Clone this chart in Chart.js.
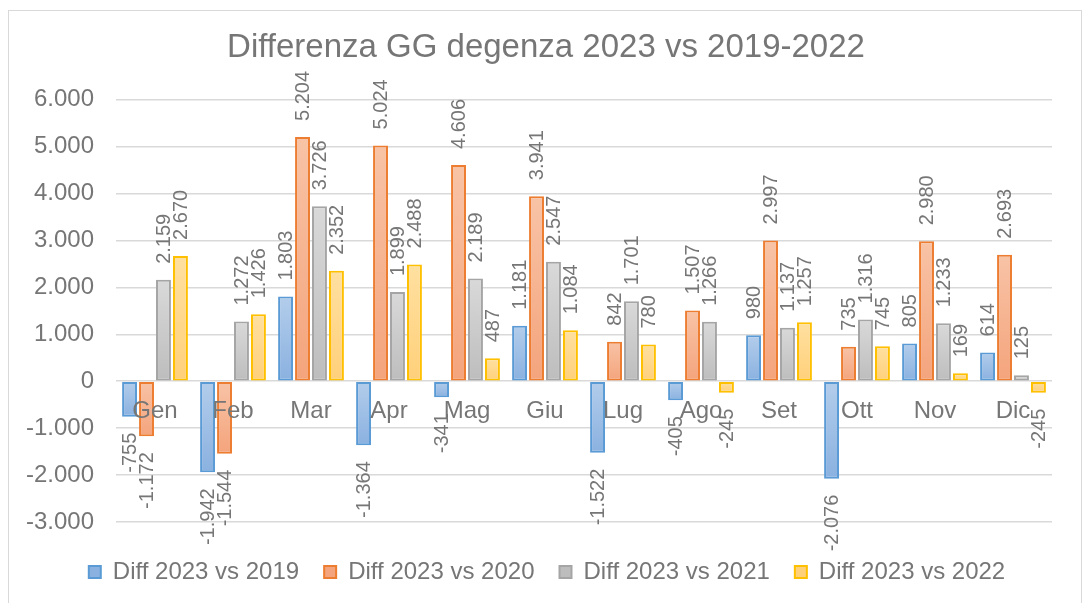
<!DOCTYPE html>
<html>
<head>
<meta charset="utf-8">
<script src="https://cdn.jsdelivr.net/npm/chart.js@4/dist/chart.umd.min.js"></script>
<style>
  html, body { margin: 0; padding: 0; background: #fff; }
  #wrap { width: 1090px; height: 603px; position: relative; }
</style>
</head>
<body>
<div id="wrap"><canvas id="chart"></canvas></div>
<script>
// data
const months = ["Gen", "Feb", "Mar", "Apr", "Mag", "Giu", "Lug", "Ago", "Set", "Ott", "Nov", "Dic"];
const diff2019 = [-755, -1942, 1803, -1364, -341, 1181, -1522, -405, 980, -2076, 805, 614];
const diff2020 = [-1172, -1544, 5204, 5024, 4606, 3941, 842, 1507, 2997, 735, 2980, 2693];
const diff2021 = [2159, 1272, 3726, 1899, 2189, 2547, 1701, 1266, 1137, 1316, 1233, 125];
const diff2022 = [2670, 1426, 2352, 2488, 487, 1084, 780, -245, 1257, 745, 169, -245];
const yTicks = [-3000, -2000, -1000, 0, 1000, 2000, 3000, 4000, 5000, 6000];

const FONT = '"Liberation Sans", Arial, sans-serif';
const GREY = '#767676';

// 1234 -> 1.234 (italian grouping)
function fmt(v) {
  const s = String(Math.abs(v)).replace(/\B(?=(\d{3})+(?!\d))/g, '.');
  return v < 0 ? '-' + s : s;
}

// vertical gradient per bar, light on top, darker at the bottom
function barFill(light, dark) {
  return function (ctx) {
    const y = ctx.chart.scales.y;
    if (ctx.type !== 'data' || !y) return light;
    const v = ctx.parsed.y;
    const top = y.getPixelForValue(Math.max(v, 0));
    const bot = y.getPixelForValue(Math.min(v, 0));
    if (!isFinite(top) || !isFinite(bot) || bot - top < 1) return light;
    const g = ctx.chart.ctx.createLinearGradient(0, top, 0, bot);
    g.addColorStop(0, light);
    g.addColorStop(1, dark);
    return g;
  };
}

const frame = {
  id: 'frame',
  beforeDraw(chart) {
    const c = chart.ctx;
    c.save();
    c.fillStyle = '#fff';
    c.fillRect(0, 0, chart.width, chart.height);
    c.strokeStyle = '#d9d9d9';
    c.lineWidth = 1;
    c.strokeRect(8.5, 10.5, 1073, 620);
    c.restore();
  },
  afterLayout(chart) {
    // excel centres title and legend on the whole frame, not the plot
    chart.titleBlock.left += 7;
    chart.titleBlock.right += 7;
    chart.legend.left += 8;
    chart.legend.right += 8;
  }
};

// month names next to the zero line, like excel "next to axis"
const monthLabels = {
  id: 'monthLabels',
  afterDatasetsDraw(chart) {
    const c = chart.ctx;
    const x = chart.scales.x;
    const y0 = chart.scales.y.getPixelForValue(0);
    c.save();
    c.font = '24px ' + FONT;
    c.fillStyle = GREY;
    c.textAlign = 'center';
    c.textBaseline = 'middle';
    x.getLabels().forEach((lab, i) => {
      c.fillText(lab, x.getPixelForTick(i), y0 + 30);
    });
    c.restore();
  }
};

const barLabels = {
  id: 'barLabels',
  afterDatasetsDraw(chart) {
    const c = chart.ctx;
    c.save();
    c.font = '20px ' + FONT;
    c.fillStyle = GREY;
    c.textBaseline = 'middle';
    chart.data.datasets.forEach((ds, i) => {
      chart.getDatasetMeta(i).data.forEach((bar, j) => {
        const v = ds.data[j];
        c.save();
        c.translate(bar.x + 1, v >= 0 ? bar.y - 16 : bar.y + 16);
        c.rotate(-Math.PI / 2);
        c.textAlign = v >= 0 ? 'left' : 'right';
        c.fillText(fmt(v), 0, 0);
        c.restore();
      });
    });
    c.restore();
  }
};

function series(label, data, light, dark, border) {
  return {
    label: label,
    data: data,
    backgroundColor: barFill(light, dark),
    borderColor: border,
    borderWidth: 2,
    borderSkipped: false,
    categoryPercentage: 0.87,
    barPercentage: 0.88
  };
}

new Chart(document.getElementById('chart'), {
  type: 'bar',
  data: {
    labels: months,
    datasets: [
      series('Diff 2023 vs 2019', diff2019, '#b3cdeb', '#8ab1e0', '#5b9bd5'),
      series('Diff 2023 vs 2020', diff2020, '#f8c3a6', '#f4a47c', '#ed7d31'),
      series('Diff 2023 vs 2021', diff2021, '#d9d9d9', '#bdbdbd', '#a5a5a5'),
      series('Diff 2023 vs 2022', diff2022, '#ffe0a0', '#ffd07a', '#ffc000')
    ]
  },
  options: {
    responsive: true,
    maintainAspectRatio: false,
    animation: false,
    layout: { padding: { top: 5, left: 26, right: 38, bottom: 9 } },
    plugins: {
      title: {
        display: true,
        text: 'Differenza GG degenza 2023 vs 2019-2022',
        color: GREY,
        font: { family: FONT, size: 33, weight: 'normal' },
        padding: { top: 23, bottom: 32 }
      },
      legend: {
        position: 'bottom',
        labels: {
          color: GREY,
          font: { family: FONT, size: 24 },
          boxWidth: 12,
          boxHeight: 12,
          padding: 25
        }
      },
      tooltip: { enabled: false }
    },
    scales: {
      x: {
        grid: { display: false, drawTicks: false },
        border: { display: false },
        ticks: { display: false },
        afterFit: s => { s.height = 13; }
      },
      y: {
        min: yTicks[0],
        max: yTicks[yTicks.length - 1],
        afterBuildTicks: axis => { axis.ticks = yTicks.map(v => ({ value: v })); },
        afterFit: s => { s.width = 90; },
        grid: { color: '#d9d9d9', lineWidth: 1.5, drawTicks: false },
        border: { display: false },
        ticks: {
          color: GREY,
          font: { family: FONT, size: 24 },
          padding: 22,
          callback: v => fmt(v)
        }
      }
    }
  },
  plugins: [frame, monthLabels, barLabels]
});
</script>
</body>
</html>
